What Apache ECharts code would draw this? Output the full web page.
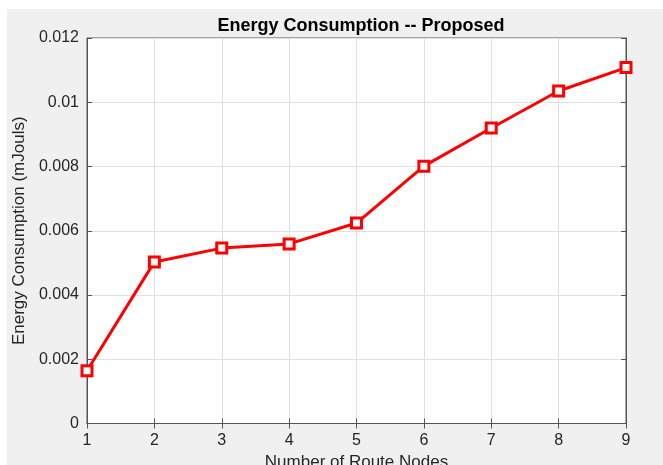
<!DOCTYPE html>
<html><head><meta charset="utf-8">
<script src="https://cdn.jsdelivr.net/npm/echarts@6/dist/echarts.min.js"></script>
<style>
html,body{margin:0;padding:0;background:#fff;width:663px;height:465px;overflow:hidden}
#c{position:absolute;left:7px;top:9px;width:656px;height:456px;}
</style></head>
<body><div id="c"></div>
<script>
var nodes = [1, 2, 3, 4, 5, 6, 7, 8, 9];
var energy = [0.00164, 0.00503, 0.00546, 0.00559, 0.00624, 0.00801, 0.00920, 0.01035, 0.01108];
var yTicks = [0, 0.002, 0.004, 0.006, 0.008, 0.01, 0.012];

var chart = echarts.init(document.getElementById('c'));
var font = 'Liberation Sans, Arial, sans-serif';
var axisCol = '#555555';
var gridCol = '#e0e0e0';
chart.setOption({
  backgroundColor: '#f0f0f0',
  animation: false,
  title: {
    text: 'Energy Consumption -- Proposed',
    left: 349, top: 3, textAlign: 'center',
    textStyle: {fontFamily: font, fontSize: 18, fontWeight: 'bold', color: '#000'}
  },
  grid: {left: 80, right: 37, top: 29, bottom: 41.5, outerBoundsMode: 'none', containLabel: false,
    show: true, borderColor: axisCol, borderWidth: 1, backgroundColor: '#fff'},
  xAxis: [{
    type: 'value', min: 1, max: 9, interval: 1,
    name: 'Number of Route Nodes', nameLocation: 'middle', nameGap: 29,
    nameTextStyle: {fontFamily: font, fontSize: 17, color: '#262626'},
    axisLine: {show: true, lineStyle: {color: axisCol}},
    axisTick: {show: true, inside: true, length: 5, lineStyle: {color: axisCol}},
    axisLabel: {fontFamily: font, fontSize: 16, color: '#262626', margin: 9},
    splitLine: {show: true, lineStyle: {color: gridCol}}
  }, {
    type: 'value', position: 'top', min: 1, max: 9, interval: 1,
    axisLine: {show: true, lineStyle: {color: axisCol}},
    axisTick: {show: true, inside: true, length: 5, lineStyle: {color: axisCol}},
    axisLabel: {show: false}, splitLine: {show: false}
  }],
  yAxis: [{
    type: 'value', min: 0, max: 0.012, interval: 0.002,
    name: 'Energy Consumption (mJouls)', nameLocation: 'middle', nameGap: 51,
    nameTextStyle: {fontFamily: font, fontSize: 17, color: '#262626'},
    axisLine: {show: true, lineStyle: {color: axisCol}},
    axisTick: {show: true, inside: true, length: 5, lineStyle: {color: axisCol}},
    axisLabel: {fontFamily: font, fontSize: 16, color: '#262626', margin: 8,
      formatter: function (v) { return String(parseFloat(v.toFixed(4))); }},
    splitLine: {show: true, lineStyle: {color: gridCol}}
  }, {
    type: 'value', position: 'right', min: 0, max: 0.012, interval: 0.002,
    axisLine: {show: true, lineStyle: {color: axisCol}},
    axisTick: {show: true, inside: true, length: 5, lineStyle: {color: axisCol}},
    axisLabel: {show: false}, splitLine: {show: false}
  }],
  series: [{
    type: 'line',
    data: nodes.map(function (n, i) { return [n, energy[i]]; }),
    lineStyle: {color: '#ff0000', width: 3},
    symbol: 'rect', symbolSize: 10, showAllSymbol: true,
    itemStyle: {color: '#ffffff', borderColor: '#ff0000', borderWidth: 3}
  }]
});
</script></body></html>
